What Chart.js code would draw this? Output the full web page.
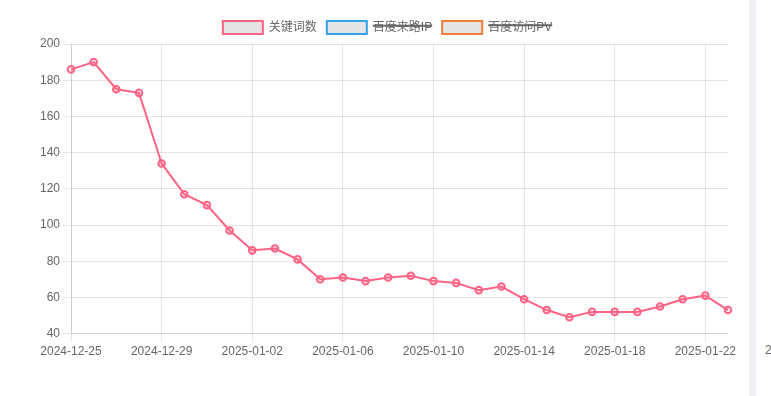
<!DOCTYPE html>
<html>
<head>
<meta charset="utf-8">
<script src="https://cdn.jsdelivr.net/npm/chart.js@4/dist/chart.umd.min.js"></script>
<style>
html,body{margin:0;padding:0;background:#fff;width:771px;height:396px;overflow:hidden;}
#wrap{position:absolute;left:0;top:0;width:749px;height:362px;}
#bar{position:absolute;left:749px;top:0;width:7px;height:396px;background:#eef0f4;}
#stray{position:absolute;left:765px;top:343px;font:12px "Liberation Sans",Arial,sans-serif;color:#666;}
</style>
</head>
<body>
<div id="wrap"><canvas id="c"></canvas></div>
<div id="bar"></div>
<div id="stray">2</div>
<script>
const dates = ["2024-12-25","2024-12-26","2024-12-27","2024-12-28","2024-12-29","2024-12-30","2024-12-31",
"2025-01-01","2025-01-02","2025-01-03","2025-01-04","2025-01-05","2025-01-06","2025-01-07","2025-01-08",
"2025-01-09","2025-01-10","2025-01-11","2025-01-12","2025-01-13","2025-01-14","2025-01-15","2025-01-16",
"2025-01-17","2025-01-18","2025-01-19","2025-01-20","2025-01-21","2025-01-22","2025-01-23"];
const keywordCount = [186,190,175,173,134,117,111,97,86,87,81,70,71,69,71,72,69,68,64,66,59,53,49,52,52,52,55,59,61,53];
const baiduIP = [];
const baiduPV = [];
const seriesNames = ["关键词数","百度来路IP","百度访问PV"];
const yTicks = {min:40, max:200, step:20};
const labelEvery = 4;

Chart.defaults.font.family = '"Liberation Sans", Arial, "Noto Sans CJK SC", sans-serif';
Chart.defaults.font.size = 12;
Chart.defaults.color = '#666';

const gridC = 'rgba(0,0,0,0.1)';
const legendShift = {id:'legendShift', afterLayout(chart){ if(chart.legend){ chart.legend.left += 5; chart.legend.right += 5; } }};
new Chart(document.getElementById('c'), {
  type: 'line',
  data: {
    labels: dates,
    datasets: [
      {label: seriesNames[0], data: keywordCount, borderColor:'#ff6384', backgroundColor:'rgba(0,0,0,0.1)',
       borderWidth:2, pointRadius:3.3, pointBorderWidth:2, pointBackgroundColor:'rgba(255,99,132,0.12)', tension:0, fill:false},
      {label: seriesNames[1], data: baiduIP, borderColor:'#36a2eb', backgroundColor:'rgba(0,0,0,0.1)', borderWidth:2, hidden:true, fill:false},
      {label: seriesNames[2], data: baiduPV, borderColor:'#f77c3a', backgroundColor:'rgba(0,0,0,0.1)', borderWidth:2, hidden:true, fill:false}
    ]
  },
  plugins:[legendShift],
  options: {
    responsive:true, maintainAspectRatio:false, animation:false,
    layout:{padding:{left:37,right:21,top:11,bottom:0}},
    plugins:{
      legend:{labels:{boxWidth:40, boxHeight:13, font:{size:12}}},
      tooltip:{enabled:false}
    },
    scales:{
      x:{grid:{color:(ctx)=> (ctx.index % labelEvery === 0 ? gridC : 'rgba(0,0,0,0)')},
         ticks:{autoSkip:false, maxRotation:0, callback:function(v,i){return i%labelEvery===0?dates[i]:'';}}},
      y:{min:yTicks.min, max:yTicks.max, grid:{color:gridC}, ticks:{stepSize:yTicks.step}}
    }
  }
});
</script>
</body>
</html>
